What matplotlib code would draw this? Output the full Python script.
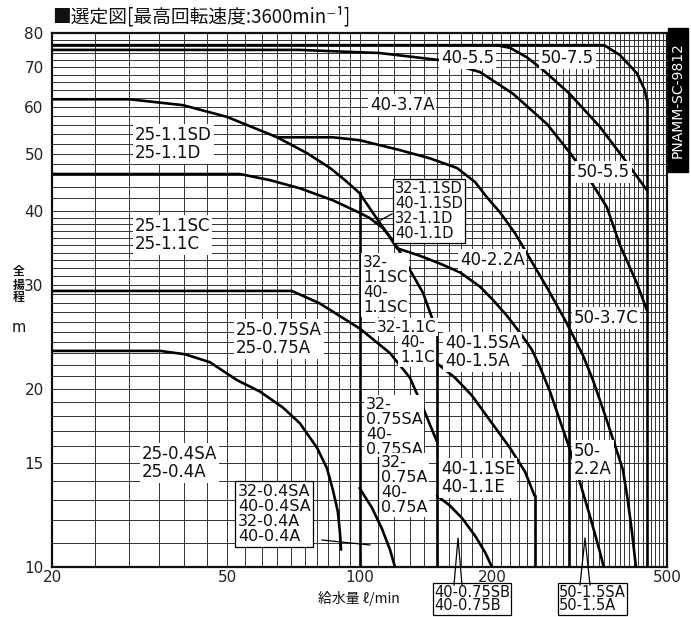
import matplotlib
matplotlib.use("Agg")
import matplotlib.pyplot as plt
from matplotlib.lines import Line2D
from matplotlib.patches import Rectangle
from matplotlib.ticker import NullLocator

plt.rcParams['font.family'] = ['DejaVu Sans', 'Noto Sans CJK JP']
JP = ['Noto Sans CJK JP', 'DejaVu Sans']

# ---------------- data (Q in l/min, H in m) ----------------
x_ticks = [20, 50, 100, 200, 500]
y_ticks = [10, 15, 20, 30, 40, 50, 60, 70, 80]

q_50_75 = [20, 360, 391, 427, 445, 450]
h_50_75 = [76.3, 76.3, 73.4, 68.4, 64.1, 61.6]

q_55 = [205, 220, 240, 260, 300, 352, 397, 450]
h_55 = [76.3, 75.5, 72.8, 69.5, 63.2, 55.5, 49.3, 43.4]

q_37 = [20, 73, 111, 152, 188, 223, 267, 300, 334, 365, 391, 427, 450]
h_37 = [74.9, 74.9, 74.0, 72.0, 68.7, 63.2, 56.1, 50.3, 45.1, 40.6, 35.0, 30.2, 27.2]

q_25_11SD = [20, 30, 39.7, 50, 65, 76, 85.7, 92.7, 100, 107.3, 115.5, 121.7]
h_25_11SD = [61.8, 61.8, 60.4, 57.7, 53.3, 50.1, 47.3, 45.1, 42.9, 39.7, 36.7, 34.6]

q_53 = [65, 87, 100, 123.6, 144.6, 166.5, 183, 194.8, 208.6, 225.6, 240.2, 266.7,
        296.2, 322, 339.4, 361.2, 380.5, 397, 407, 416, 425]
h_53 = [53.3, 53.3, 52.7, 50.7, 49.1, 47.3, 44.8, 42.2, 39.8, 36.7, 33.9, 29.7,
        25.8, 22.8, 20.7, 18.1, 16.1, 14.6, 13.0, 11.5, 10.0]

q_25_11SC = [20, 53.5, 62.6, 73.2, 87, 100.2, 105.6, 113.1, 119.1, 123.6, 130.2, 139.4, 146.9, 150]
h_25_11SC = [46.2, 46.2, 45.1, 43.7, 41.7, 39.7, 38.9, 37.4, 35.7, 34.1, 31.8, 29.1, 26.1, 24.9]

q_25_075 = [20, 70.2, 81.3, 100.2, 117.3, 130.2, 139.4, 144.6, 150]
h_25_075 = [29.3, 29.3, 27.9, 25.3, 23.0, 20.9, 18.6, 17.4, 16.3]

q_25_04 = [20, 35.2, 40.1, 45.7, 52.7, 59.4, 67, 73.2, 80.1, 84.3, 87, 89.3, 90.3, 90.8]
h_25_04 = [23.2, 23.2, 22.9, 22.2, 20.7, 19.8, 18.6, 17.5, 15.9, 14.7, 13.5, 12.4, 11.4, 10.7]

q_075A = [100, 106.7, 112.5, 117.3, 120.4]
h_075A = [13.6, 12.6, 11.6, 10.7, 10.0]

q_15 = [150, 164.8, 180.1, 197.9, 219.8, 237.7, 250]
h_15 = [22.1, 20.9, 19.5, 17.7, 15.9, 14.5, 13.2]

q_11E = [150, 160.5, 171, 183, 192.8, 200]
h_11E = [13.2, 12.7, 12.1, 11.3, 10.6, 10.0]

q_22 = [121.7, 137.2, 152.3, 169.2, 187.8, 201, 216.4, 231.6, 246.6, 257.1, 271,
        285.4, 300.8, 317, 334, 352, 359]
h_22 = [34.6, 33.6, 32.6, 31.5, 29.8, 28.3, 26.6, 24.9, 23.3, 21.8, 19.8,
        17.7, 15.8, 13.9, 12.2, 10.6, 10.0]

cut_q = [100, 150, 250, 300, 450]
cut_top = [42.9, 24.9, 13.2, 63.2, 61.6]

curves = [(q_50_75, h_50_75), (q_55, h_55), (q_37, h_37), (q_25_11SD, h_25_11SD),
          (q_53, h_53), (q_25_11SC, h_25_11SC), (q_25_075, h_25_075), (q_25_04, h_25_04),
          (q_075A, h_075A), (q_15, h_15), (q_11E, h_11E), (q_22, h_22)]

# ---------------- figure ----------------
W, HP = 691, 617
fig = plt.figure(figsize=(W / 100, HP / 100), dpi=100)
fig.patch.set_facecolor('white')
L, R, T, B = 52, 667, 33, 567
ax = fig.add_axes([L / W, 1 - B / HP, (R - L) / W, (B - T) / HP])
ax.set_xscale('log')
ax.set_yscale('log')
ax.set_xlim(20, 500)
ax.set_ylim(10, 80)
ax.xaxis.set_minor_locator(NullLocator())
ax.yaxis.set_minor_locator(NullLocator())
ax.set_xticks(x_ticks)
ax.set_xticklabels([str(v) for v in x_ticks])
ax.set_yticks(y_ticks)
ax.set_yticklabels([str(v) for v in y_ticks])
ax.tick_params(length=0, labelsize=11, colors='#222222')
ax.tick_params(axis='x', pad=2)
ax.tick_params(axis='y', pad=6)
for s in ax.spines.values():
    s.set_linewidth(1.6)
    s.set_color('#111111')

# grid
xgrid = list(range(25, 100, 5)) + list(range(100, 500, 10))
ygrid = list(range(11, 40)) + list(range(40, 80, 2))
for q in xgrid:
    ax.axvline(q, color='#333333', lw=0.7, zorder=1)
for h in ygrid:
    ax.axhline(h, color='#333333', lw=0.7, zorder=1)

for q, h in curves:
    ax.plot(q, h, color='black', lw=1.9, zorder=3, solid_joinstyle='round', solid_capstyle='round')
for q, top in zip(cut_q, cut_top):
    ax.plot([q, q], [top, 10], color='black', lw=1.9, zorder=3)


def lab(px, py, s, size=12, boxed=False, ls=1.0, ha='left', family=None, pad=None):
    if pad is None:
        pad = 1.8 if boxed else 1.2
    bb = dict(facecolor='white', edgecolor='black' if boxed else 'none',
              linewidth=0.9, pad=pad)
    kw = {}
    if family:
        kw['family'] = family
    fig.text(px / W, 1 - py / HP, s, fontsize=size, ha=ha, va='center',
             linespacing=ls, bbox=bb, zorder=6, color='#111111', **kw)


def seg(xs, ys, lw=0.9):
    fig.add_artist(Line2D([x / W for x in xs], [1 - y / HP for y in ys],
                          color='black', lw=lw, zorder=7))


lab(441, 58, "40-5.5")
lab(541, 58, "50-7.5")
lab(370, 105, "40-3.7A")
lab(135, 144, "25-1.1SD\n25-1.1D")
lab(577, 172, "50-5.5")
lab(395, 211, "32-1.1SD\n40-1.1SD\n32-1.1D\n40-1.1D", size=10.5, boxed=True)
lab(135, 235, "25-1.1SC\n25-1.1C")
lab(460, 260, "40-2.2A")
lab(363, 285, "32-\n1.1SC\n40-\n1.1SC", size=11)
lab(377, 327, "32-1.1C", size=11)
lab(400, 350, "40-\n1.1C", size=11)
lab(445, 352, "40-1.5SA\n40-1.5A")
lab(236, 339, "25-0.75SA\n25-0.75A")
lab(574, 318, "50-3.7C")
lab(366, 427, "32-\n0.75SA\n40-\n0.75SA", size=11.5)
lab(381, 485, "32-\n0.75A\n40-\n0.75A", size=11.5)
lab(441, 478, "40-1.1SE\n40-1.1E")
lab(574, 460, "50-\n2.2A")
lab(142, 463, "25-0.4SA\n25-0.4A")
lab(238, 514, "32-0.4SA\n40-0.4SA\n32-0.4A\n40-0.4A", size=11.5, boxed=True)
lab(434, 599, "40-0.75SB\n40-0.75B", size=10.5, boxed=True, ls=0.85, pad=1.0)
lab(559, 599, "50-1.5SA\n50-1.5A", size=10.5, boxed=True, ls=0.85, pad=1.0)

# leader lines
seg([392, 375], [214, 223])
seg([322, 370], [540, 545])
seg([454, 458, 462], [585, 538, 585])
seg([580, 585, 590], [585, 538, 585])
seg([378, 378], [457, 512])

# title
fig.text(52 / W, 1 - 17 / HP, "■選定図[最高回転速度:3600min⁻¹]", fontsize=13.5,
         family=JP, ha='left', va='center', color='#111111')

# axis titles
fig.text(19 / W, 1 - 285 / HP, "全\n揚\n程", fontsize=8.5, family=JP, ha='center',
         va='center', linespacing=1.0, fontweight='bold', color='#111111')
fig.text(19 / W, 1 - 327 / HP, "m", fontsize=10.5, ha='center', va='center', color='#111111')
fig.text(318 / W, 1 - 598 / HP, "給水量 ℓ/min", fontsize=10, family=JP, ha='left',
         va='center', color='#111111')

# code tag
fig.patches.append(Rectangle((668 / W, 1 - 172 / HP), 20 / W, 144 / HP,
                             transform=fig.transFigure, color='black', zorder=5))
fig.text(678 / W, 1 - 100 / HP, "PNAMM-SC-9812", rotation=90, color='white',
         fontsize=10, ha='center', va='center', zorder=6)

fig.savefig("out.png", dpi=100, facecolor='white')
